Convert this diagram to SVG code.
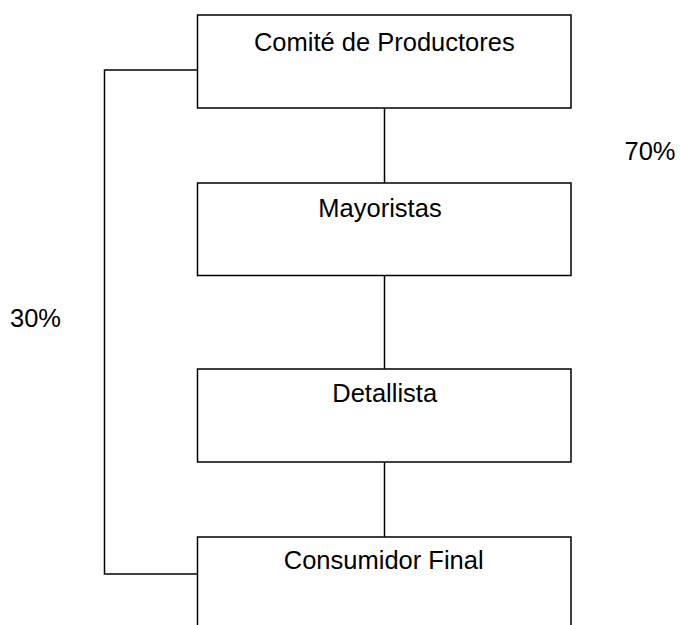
<svg xmlns="http://www.w3.org/2000/svg" width="680" height="625" viewBox="0 0 680 625">
<style>
.box{fill:#fff;stroke:#000;stroke-width:1.5}
.ln{fill:none;stroke:#000;stroke-width:1.5}
text{font-family:"Liberation Sans",Arial,sans-serif;font-size:25.5px;fill:#000}
.c{text-anchor:middle}
</style>
<rect width="680" height="625" fill="#fff"/>
<g id="connectors">
<line class="ln" x1="384.5" y1="108" x2="384.5" y2="183"/>
<line class="ln" x1="384.5" y1="275.5" x2="384.5" y2="369"/>
<line class="ln" x1="384.5" y1="462" x2="384.5" y2="537"/>
<polyline class="ln" points="197.5,70 104.5,70 104.5,574 197.5,574"/>
</g>
<g id="n1"><rect class="box" x="197.5" y="15" width="373.5" height="93"/><text class="c" x="384.3" y="50.7">Comité de Productores</text></g>
<g id="n2"><rect class="box" x="197.5" y="183" width="373.5" height="92.5"/><text class="c" x="380" y="216.7">Mayoristas</text></g>
<g id="n3"><rect class="box" x="197.5" y="369" width="373.5" height="93"/><text class="c" x="384.7" y="401.7">Detallista</text></g>
<g id="n4"><rect class="box" x="197.5" y="537" width="373.5" height="100"/><text class="c" x="383.7" y="569.3">Consumidor Final</text></g>
<text x="624.5" y="160">70%</text>
<text x="10" y="327.3">30%</text>
</svg>
